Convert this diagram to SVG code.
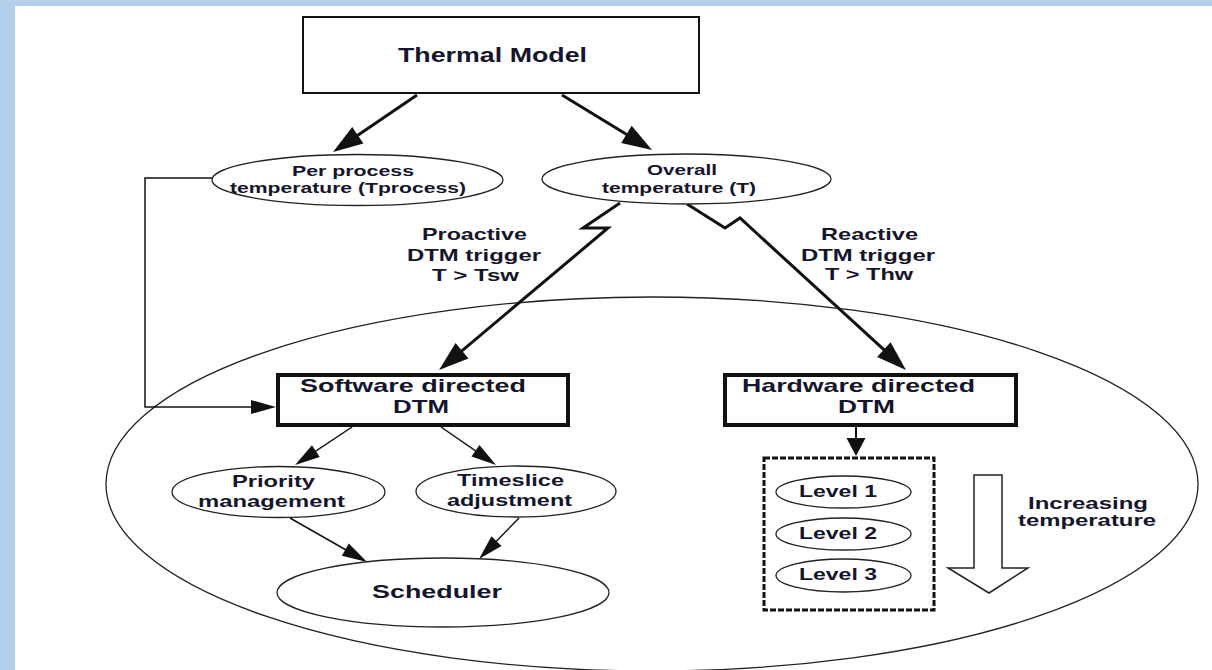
<svg xmlns="http://www.w3.org/2000/svg" width="1212" height="670" viewBox="0 0 1212 670">
<defs>
<style>
text{font-family:"Liberation Sans",Arial,sans-serif;font-weight:bold;fill:#15152b;text-anchor:middle}
.box{fill:#fff;stroke:#111;stroke-width:2}
.bold{fill:#fff;stroke:#111;stroke-width:4}
.ell{fill:#fff;stroke:#222;stroke-width:1.3}
.thick{fill:none;stroke:#111;stroke-width:3;stroke-linejoin:miter}
.thin{fill:none;stroke:#111;stroke-width:1.5}
.t15{font-size:15px}
.t16{font-size:16.5px}
.t17{font-size:17px}
.t18{font-size:18.5px}
</style>
<marker id="ahBig" markerUnits="userSpaceOnUse" markerWidth="32" markerHeight="22" refX="20" refY="0" orient="auto" overflow="visible">
<path d="M0,-10 L30,0 L0,10 z" fill="#111"/>
</marker>
<marker id="ahThin" markerUnits="userSpaceOnUse" markerWidth="28" markerHeight="16" refX="20" refY="0" orient="auto" overflow="visible">
<path d="M0,-7 L25,0 L0,7 z" fill="#111"/>
</marker>
<marker id="ahStub" markerUnits="userSpaceOnUse" markerWidth="20" markerHeight="20" refX="14" refY="0" orient="auto" overflow="visible">
<path d="M0,-9.5 L18,0 L0,9.5 z" fill="#111"/>
</marker>
</defs>
<rect x="0" y="0" width="1212" height="670" fill="#b4cfe9"/>
<rect x="15" y="6" width="1197" height="664" fill="#fff"/>

<g id="domain">
<ellipse cx="652" cy="484" rx="546" ry="187" fill="none" stroke="#222" stroke-width="1.3"/>
</g>

<g id="connectors">
<path class="thick" d="M417,95 L341.3,146.4" marker-end="url(#ahBig)"/>
<path class="thick" d="M562,95 L643.5,144.8" marker-end="url(#ahBig)"/>
<path class="thick" d="M620,203 L583,228 L608,228 L446.7,363.6" marker-end="url(#ahBig)"/>
<path class="thick" d="M687,204 L725,228 L740,218 L898.6,363.2" marker-end="url(#ahBig)"/>
<path class="thin" d="M212,178 L145,178 L145,407 L271,407" marker-end="url(#ahThin)"/>
<path class="thin" d="M352,427 L299.2,462.2" marker-end="url(#ahThin)"/>
<path class="thin" d="M441,427 L491.9,462.2" marker-end="url(#ahThin)"/>
<path class="thin" d="M290,518 L362.7,559.5" marker-end="url(#ahThin)"/>
<path class="thin" d="M519,518 L482.5,555.4" marker-end="url(#ahThin)"/>
<path d="M856,427 L856,452" fill="none" stroke="#111" stroke-width="2" marker-end="url(#ahStub)"/>
</g>

<g id="thermal-model">
<rect class="box" x="303" y="17" width="396" height="76"/>
<text x="492.5" y="62" style="font-size:19.5px" textLength="189" lengthAdjust="spacingAndGlyphs">Thermal Model</text>
</g>

<g id="per-process">
<ellipse class="ell" cx="357.5" cy="180" rx="145.5" ry="25.5"/>
<text class="t15" x="353" y="176" textLength="122" lengthAdjust="spacingAndGlyphs">Per process</text>
<text class="t15" x="348" y="193" textLength="236" lengthAdjust="spacingAndGlyphs">temperature (Tprocess)</text>
</g>

<g id="overall">
<ellipse class="ell" cx="686.5" cy="179" rx="144.5" ry="25"/>
<text class="t15" x="682" y="175" textLength="70" lengthAdjust="spacingAndGlyphs">Overall</text>
<text class="t15" x="679" y="193" textLength="154" lengthAdjust="spacingAndGlyphs">temperature (T)</text>
</g>

<g id="proactive-label">
<text class="t17" x="474.5" y="240" textLength="105" lengthAdjust="spacingAndGlyphs">Proactive</text>
<text class="t17" x="474" y="261" textLength="134" lengthAdjust="spacingAndGlyphs">DTM trigger</text>
<text class="t17" x="475.5" y="281" textLength="87" lengthAdjust="spacingAndGlyphs">T &gt; Tsw</text>
</g>

<g id="reactive-label">
<text class="t17" x="869.5" y="240" textLength="97" lengthAdjust="spacingAndGlyphs">Reactive</text>
<text class="t17" x="868" y="261" textLength="134" lengthAdjust="spacingAndGlyphs">DTM trigger</text>
<text class="t17" x="869" y="280" textLength="88" lengthAdjust="spacingAndGlyphs">T &gt; Thw</text>
</g>

<g id="software-dtm">
<rect class="bold" x="278" y="375" width="290" height="50"/>
<text class="t18" x="413" y="392" textLength="226" lengthAdjust="spacingAndGlyphs">Software directed</text>
<text class="t18" x="421" y="413" textLength="56" lengthAdjust="spacingAndGlyphs">DTM</text>
</g>

<g id="hardware-dtm">
<rect class="bold" x="725" y="375" width="291" height="50"/>
<text class="t18" x="858.5" y="392" textLength="233" lengthAdjust="spacingAndGlyphs">Hardware directed</text>
<text class="t18" x="866.5" y="413" textLength="57" lengthAdjust="spacingAndGlyphs">DTM</text>
</g>

<g id="priority">
<ellipse class="ell" cx="278.5" cy="492" rx="106.5" ry="25.5"/>
<text class="t16" x="273.5" y="487" textLength="83" lengthAdjust="spacingAndGlyphs">Priority</text>
<text class="t16" x="271.5" y="507" textLength="147" lengthAdjust="spacingAndGlyphs">management</text>
</g>

<g id="timeslice">
<ellipse class="ell" cx="516" cy="491.5" rx="100" ry="25.5"/>
<text class="t16" x="510.5" y="486" textLength="107" lengthAdjust="spacingAndGlyphs">Timeslice</text>
<text class="t16" x="509.5" y="506" textLength="125" lengthAdjust="spacingAndGlyphs">adjustment</text>
</g>

<g id="scheduler">
<ellipse class="ell" cx="443" cy="592.5" rx="166" ry="34.5"/>
<text class="t18" x="437" y="598" textLength="130" lengthAdjust="spacingAndGlyphs">Scheduler</text>
</g>

<g id="levels">
<rect x="764" y="458" width="170" height="152" fill="none" stroke="#111" stroke-width="3" stroke-dasharray="6 2"/>
<g id="level-1">
<ellipse class="ell" cx="843.5" cy="492" rx="67.5" ry="16"/>
<text class="t16" x="838" y="497" textLength="78" lengthAdjust="spacingAndGlyphs">Level 1</text>
</g>
<g id="level-2">
<ellipse class="ell" cx="843.5" cy="534" rx="67.5" ry="16"/>
<text class="t16" x="838" y="539" textLength="78" lengthAdjust="spacingAndGlyphs">Level 2</text>
</g>
<g id="level-3">
<ellipse class="ell" cx="843.5" cy="575.5" rx="67.5" ry="16.5"/>
<text class="t16" x="838" y="580" textLength="78" lengthAdjust="spacingAndGlyphs">Level 3</text>
</g>
</g>

<g id="increasing-temperature">
<polygon points="974,475 1002,475 1002,568 1028,568 989,593 948,568 974,568" fill="#fff" stroke="#222" stroke-width="1.5"/>
<text class="t17" x="1088" y="509" textLength="120" lengthAdjust="spacingAndGlyphs">Increasing</text>
<text class="t17" x="1087" y="526" textLength="138" lengthAdjust="spacingAndGlyphs">temperature</text>
</g>
</svg>
